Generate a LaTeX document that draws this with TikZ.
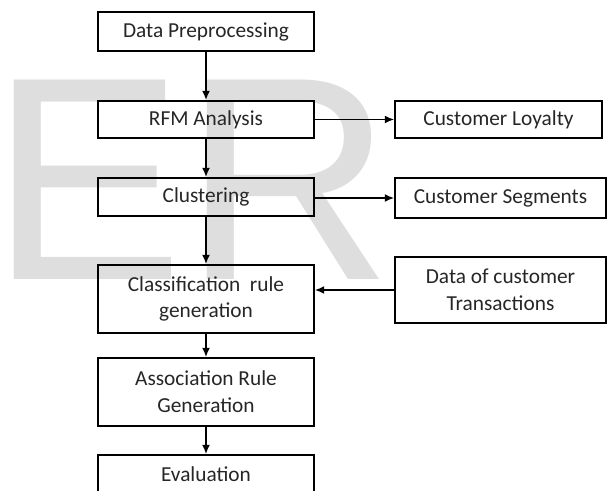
\documentclass[tikz,border=0pt]{standalone}
\usepackage{fontspec}
\setmainfont{Carlito}
\newfontfamily\markfont{Liberation Sans}
\usetikzlibrary{arrows.meta}

\begin{document}
\begin{tikzpicture}[
		x=0.75pt, y=-0.75pt,
		box/.style = {draw, line width=1.3pt, minimum width=162pt, inner sep=0pt,
			align=center, text=black!85, font=\fontsize{16}{20}\selectfont},
		arr/.style = {-{Latex[length=7pt,width=6pt]}, line width=1.2pt}
	]
	\useasboundingbox (0,0) rectangle (608,491);
	% watermark
	\node[anchor=base west, inner sep=0pt, text=black!13,
		font=\markfont\fontsize{217.5}{217.5}\selectfont] (mark) at (-10,280) {ER};
	% main column
	\node[box, minimum height=29.25pt] (prep) at (206,31.5) {Data Preprocessing};
	\node[box, minimum height=27.75pt] (rfm) at (206,119.5) {RFM Analysis};
	\node[box, minimum height=28.5pt] (clus) at (206,197) {Clustering};
	\node[box, minimum height=51pt] (class) at (206,299) {Classification\ \ rule\\generation};
	\node[box, minimum height=51pt] (assoc) at (206,392) {Association Rule\\Generation};
	\node[box, minimum height=28.5pt] (eval) at (206,474) {Evaluation};
	% side boxes
	\node[box, minimum width=155.25pt, minimum height=27.75pt] (loyal) at (498.5,119.5) {Customer Loyalty};
	\node[box, minimum width=158.25pt, minimum height=30pt] (segm) at (500.5,198) {Customer Segments};
	\node[box, minimum width=158.25pt, minimum height=49.5pt] (trans) at (500.5,290) {Data of customer\\Transactions};
	% connectors
	\draw[arr] (prep) -- (rfm);
	\draw[arr] (rfm) -- (clus);
	\draw[arr] (clus) -- (class);
	\draw[arr] (class) -- (assoc);
	\draw[arr] (assoc) -- (eval);
	\draw[arr] (rfm) -- (loyal);
	\draw[arr] (clus.east |- segm.west) -- (segm);
	\draw[arr] (trans.west) -- (trans.west -| class.east);
\end{tikzpicture}
\end{document}
